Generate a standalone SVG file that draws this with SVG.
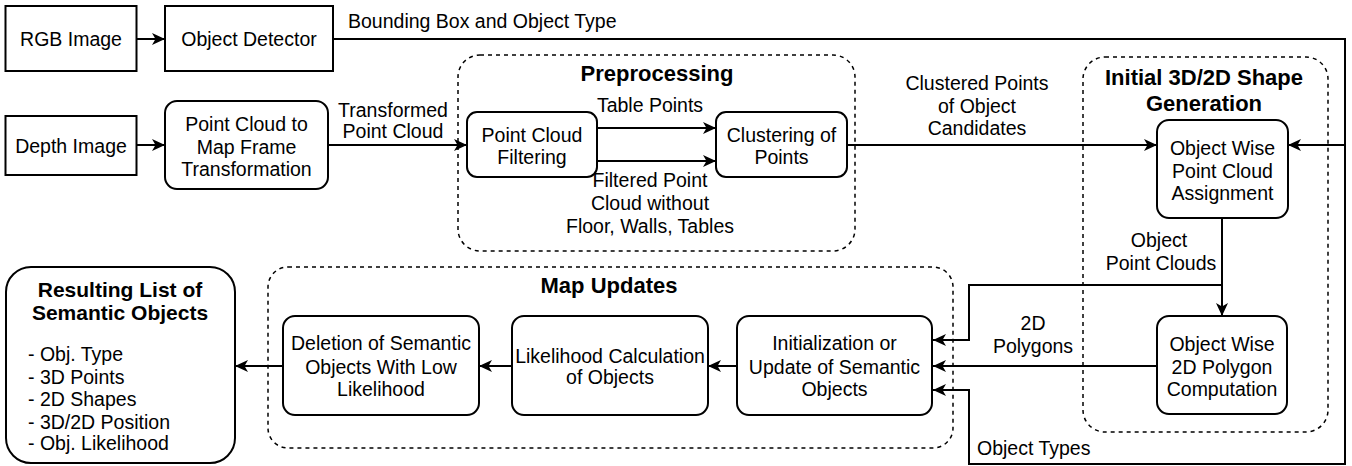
<svg xmlns="http://www.w3.org/2000/svg" width="1352" height="466" viewBox="0 0 1352 466">
<style>
.box{fill:#fff;stroke:#000;stroke-width:2}
.grp{fill:none;stroke:#000;stroke-width:1.5;stroke-dasharray:4 4}
.t{font-family:"Liberation Sans",Arial,Helvetica,sans-serif;font-size:19.5px;fill:#000;text-anchor:middle}
.l{text-anchor:start}
.b{font-weight:bold;font-size:22px}
.c{fill:none;stroke:#000;stroke-width:2}
</style>
<defs>
<marker id="ah" viewBox="0 0 13 12" refX="13" refY="6" markerWidth="13" markerHeight="12" markerUnits="userSpaceOnUse" orient="auto">
<path d="M0,0 L13,6 L0,12 L3.5,6 z" fill="#000"/>
</marker>
</defs>

<g id="grp-preprocessing">
<rect class="grp" x="458" y="55" width="397" height="196" rx="22"/>
<text class="t b" x="657" y="81">Preprocessing</text>
</g>
<g id="grp-initial">
<rect class="grp" x="1083" y="57" width="245" height="375" rx="22"/>
<text class="t b" x="1204" y="85">Initial 3D/2D Shape</text>
<text class="t b" x="1204" y="111">Generation</text>
</g>
<g id="grp-map">
<rect class="grp" x="268" y="267" width="685" height="181" rx="20"/>
<text class="t b" x="609" y="293">Map Updates</text>
</g>

<g id="connectors">
<path class="c" d="M137,39 H165" marker-end="url(#ah)"/>
<path class="c" d="M333,39 H1345 V145 H1288" marker-end="url(#ah)"/>
<path class="c" d="M1345,145 V464 H969 V390 H933" marker-end="url(#ah)"/>
<path class="c" d="M137,145 H165" marker-end="url(#ah)"/>
<path class="c" d="M328,145 H467" marker-end="url(#ah)"/>
<path class="c" d="M597,128 H716" marker-end="url(#ah)"/>
<path class="c" d="M597,161 H716" marker-end="url(#ah)"/>
<path class="c" d="M847,145 H1157" marker-end="url(#ah)"/>
<path class="c" d="M1222,218 V316" marker-end="url(#ah)"/>
<path class="c" d="M1222,285 H969 V340 H933" marker-end="url(#ah)"/>
<path class="c" d="M1157,366 H933" marker-end="url(#ah)"/>
<path class="c" d="M737,366 H708" marker-end="url(#ah)"/>
<path class="c" d="M512,366 H479" marker-end="url(#ah)"/>
<path class="c" d="M283,366 H235" marker-end="url(#ah)"/>
<text class="t l" x="348" y="28">Bounding Box and Object Type</text>
<text class="t" x="393" y="117">Transformed</text>
<text class="t" x="393" y="138">Point Cloud</text>
<text class="t" x="650" y="112">Table Points</text>
<text class="t" x="650" y="187">Filtered Point</text>
<text class="t" x="650" y="210">Cloud without</text>
<text class="t" x="650" y="233">Floor, Walls, Tables</text>
<text class="t" x="977" y="90">Clustered Points</text>
<text class="t" x="977" y="113">of Object</text>
<text class="t" x="977" y="135">Candidates</text>
<text class="t" x="1159" y="247">Object</text>
<text class="t" x="1161" y="270">Point Clouds</text>
<text class="t" x="1033" y="330">2D</text>
<text class="t" x="1033" y="353">Polygons</text>
<text class="t l" x="977" y="455">Object Types</text>
</g>

<g id="rgb">
<rect class="box" x="5.5" y="6" width="131" height="65"/>
<text class="t" x="71" y="46">RGB Image</text>
</g>
<g id="detector">
<rect class="box" x="165" y="6" width="168" height="65"/>
<text class="t" x="249" y="46">Object Detector</text>
</g>
<g id="depth">
<rect class="box" x="5.5" y="116" width="131" height="59"/>
<text class="t" x="71" y="153">Depth Image</text>
</g>
<g id="transform">
<rect class="box" x="165" y="101" width="163" height="88" rx="12"/>
<text class="t" x="246.5" y="131">Point Cloud to</text>
<text class="t" x="246.5" y="154">Map Frame</text>
<text class="t" x="246.5" y="176">Transformation</text>
</g>
<g id="filtering">
<rect class="box" x="467" y="112" width="130" height="65" rx="10"/>
<text class="t" x="532" y="142">Point Cloud</text>
<text class="t" x="532" y="164">Filtering</text>
</g>
<g id="clustering">
<rect class="box" x="716" y="112" width="131" height="65" rx="10"/>
<text class="t" x="781.5" y="142">Clustering of</text>
<text class="t" x="781.5" y="164">Points</text>
</g>
<g id="assignment">
<rect class="box" x="1157" y="120" width="131" height="98" rx="12"/>
<text class="t" x="1222.5" y="155">Object Wise</text>
<text class="t" x="1222.5" y="178">Point Cloud</text>
<text class="t" x="1222.5" y="200">Assignment</text>
</g>
<g id="polygon">
<rect class="box" x="1157" y="316" width="130" height="98" rx="12"/>
<text class="t" x="1222" y="351">Object Wise</text>
<text class="t" x="1222" y="374">2D Polygon</text>
<text class="t" x="1222" y="396">Computation</text>
</g>
<g id="init">
<rect class="box" x="737" y="316" width="195" height="99" rx="12"/>
<text class="t" x="834.5" y="350">Initialization or</text>
<text class="t" x="834.5" y="374">Update of Semantic</text>
<text class="t" x="834.5" y="396">Objects</text>
</g>
<g id="likelihood">
<rect class="box" x="512" y="316" width="196" height="99" rx="12"/>
<text class="t" x="610" y="363">Likelihood Calculation</text>
<text class="t" x="610" y="384">of Objects</text>
</g>
<g id="deletion">
<rect class="box" x="283" y="316" width="196" height="99" rx="12"/>
<text class="t" x="381" y="350">Deletion of Semantic</text>
<text class="t" x="381" y="374">Objects With Low</text>
<text class="t" x="381" y="396">Likelihood</text>
</g>
<g id="result">
<rect class="box" x="6" y="267" width="229" height="196" rx="25"/>
<text class="t b" x="120" y="297" style="font-size:21px">Resulting List of</text>
<text class="t b" x="120" y="320" style="font-size:21px">Semantic Objects</text>
<text class="t l" x="28" y="361">- Obj. Type</text>
<text class="t l" x="28" y="384">- 3D Points</text>
<text class="t l" x="28" y="406">- 2D Shapes</text>
<text class="t l" x="28" y="429">- 3D/2D Position</text>
<text class="t l" x="28" y="450">- Obj. Likelihood</text>
</g>
</svg>
